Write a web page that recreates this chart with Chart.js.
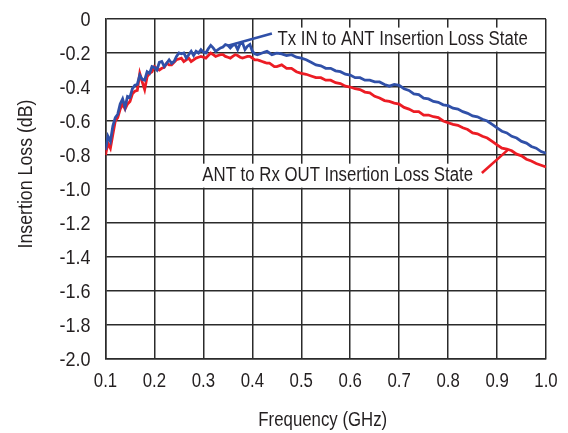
<!DOCTYPE html>
<html>
<head>
<meta charset="utf-8">
<script src="https://cdn.jsdelivr.net/npm/chart.js@4.4.1/dist/chart.umd.min.js"></script>
<style>
  html, body { margin: 0; padding: 0; background: #fff; }
  canvas { display: block; }
</style>
</head>
<body>
<canvas id="chart" width="568" height="433"></canvas>
<script>
// Frequency points (GHz): fine spacing through the noisy low band, 10 MHz above
const freqGHz = [
  0.100, 0.105, 0.110, 0.115, 0.120, 0.125, 0.130, 0.135, 0.140, 0.145,
  0.150, 0.155, 0.160, 0.165, 0.170, 0.175, 0.180, 0.185, 0.190, 0.195,
  0.200, 0.205, 0.210, 0.215, 0.220, 0.225, 0.230, 0.235, 0.240, 0.245,
  0.250, 0.255, 0.260, 0.265, 0.270, 0.275, 0.280, 0.285, 0.290, 0.295,
  0.300, 0.305, 0.310, 0.315, 0.320, 0.325, 0.330, 0.335, 0.340, 0.345,
  0.350, 0.355, 0.360, 0.365, 0.370, 0.375, 0.380, 0.385, 0.390, 0.395,
  0.400, 0.405, 0.410, 0.415, 0.420, 0.425, 0.430, 0.435, 0.440, 0.445,
  0.450,
  0.46, 0.47, 0.48, 0.49, 0.50, 0.51, 0.52, 0.53, 0.54, 0.55,
  0.56, 0.57, 0.58, 0.59, 0.60, 0.61, 0.62, 0.63, 0.64, 0.65,
  0.66, 0.67, 0.68, 0.69, 0.70, 0.71, 0.72, 0.73, 0.74, 0.75,
  0.76, 0.77, 0.78, 0.79, 0.80, 0.81, 0.82, 0.83, 0.84, 0.85,
  0.86, 0.87, 0.88, 0.89, 0.90, 0.91, 0.92, 0.93, 0.94, 0.95,
  0.96, 0.97, 0.98, 0.99, 1.00
];

// Tx IN to ANT insertion loss (dB)
const txToAntLoss = [
  -0.77, -0.69, -0.72, -0.63, -0.58, -0.56, -0.50, -0.47, -0.52, -0.455,
  -0.46, -0.41, -0.39, -0.385, -0.33, -0.355, -0.36, -0.31, -0.32, -0.28,
  -0.285, -0.30, -0.255, -0.25, -0.28, -0.26, -0.24, -0.26, -0.25, -0.22,
  -0.20, -0.205, -0.20, -0.23, -0.21, -0.19, -0.215, -0.19, -0.20, -0.18,
  -0.195, -0.20, -0.175, -0.155, -0.17, -0.19, -0.18, -0.17, -0.165, -0.15,
  -0.155, -0.17, -0.155, -0.15, -0.18, -0.145, -0.14, -0.18, -0.16, -0.15,
  -0.19, -0.205, -0.21, -0.205, -0.20, -0.195, -0.19, -0.20, -0.21, -0.205,
  -0.20,
  -0.205, -0.215, -0.21, -0.225, -0.23, -0.24, -0.255, -0.27, -0.275, -0.29,
  -0.29, -0.305, -0.31, -0.325, -0.33, -0.345, -0.345, -0.36, -0.36, -0.37,
  -0.37, -0.385, -0.395, -0.385, -0.39, -0.41, -0.42, -0.44, -0.445, -0.465,
  -0.47, -0.485, -0.49, -0.505, -0.51, -0.525, -0.53, -0.545, -0.555, -0.57,
  -0.575, -0.59, -0.60, -0.62, -0.64, -0.66, -0.67, -0.69, -0.70, -0.72,
  -0.73, -0.75, -0.76, -0.78, -0.79
];

// ANT to Rx OUT insertion loss (dB)
const antToRxLoss = [
  -0.80, -0.73, -0.76, -0.68, -0.60, -0.58, -0.53, -0.50, -0.53, -0.50,
  -0.485, -0.44, -0.425, -0.42, -0.32, -0.37, -0.415, -0.34, -0.32, -0.31,
  -0.28, -0.29, -0.30, -0.29, -0.285, -0.26, -0.27, -0.27, -0.255, -0.24,
  -0.235, -0.23, -0.25, -0.24, -0.23, -0.25, -0.24, -0.23, -0.225, -0.22,
  -0.225, -0.23, -0.215, -0.20, -0.21, -0.22, -0.215, -0.21, -0.21, -0.22,
  -0.225, -0.23, -0.22, -0.21, -0.215, -0.225, -0.23, -0.225, -0.22, -0.22,
  -0.23, -0.24, -0.24, -0.245, -0.25, -0.255, -0.26, -0.26, -0.27, -0.28,
  -0.28,
  -0.27, -0.29, -0.29, -0.31, -0.32, -0.325, -0.335, -0.345, -0.345, -0.36,
  -0.36, -0.375, -0.38, -0.395, -0.40, -0.41, -0.415, -0.43, -0.435, -0.455,
  -0.465, -0.48, -0.485, -0.495, -0.50, -0.52, -0.53, -0.545, -0.545, -0.565,
  -0.565, -0.575, -0.58, -0.60, -0.61, -0.62, -0.625, -0.64, -0.65, -0.67,
  -0.675, -0.69, -0.70, -0.72, -0.74, -0.76, -0.765, -0.775, -0.795, -0.805,
  -0.825, -0.835, -0.85, -0.86, -0.87
];

const xTicks = [0.1, 0.2, 0.3, 0.4, 0.5, 0.6, 0.7, 0.8, 0.9, 1.0];
const yTicks = [0, -0.2, -0.4, -0.6, -0.8, -1.0, -1.2, -1.4, -1.6, -1.8, -2.0];
const xTitle = 'Frequency (GHz)';
const yTitle = 'Insertion Loss (dB)';

const FONT = "'Liberation Sans', Arial, sans-serif";
const INK = '#231f20';
const GRID = '#2b2b2b';
const BLUE = '#3050a8';
const RED = '#ec1c24';

// Callout labels: baseline anchored in data units, leader line to the curve
const callouts = [
  { text: 'Tx IN to ANT Insertion Loss State', x: 0.4515, y: -0.1505, align: 'left',
    color: BLUE, from: [0.350, -0.157], to: [0.440, -0.086] },
  { text: 'ANT to Rx OUT Insertion Loss State', x: 0.851, y: -0.951, align: 'right',
    color: RED, from: [0.869, -0.906], to: [0.922, -0.770] }
];

// Narrow-set text: the face is squeezed horizontally to a condensed width
function narrowText(ctx, text, x, y, size, squeeze, align, rotate) {
  ctx.save();
  ctx.translate(x, y);
  if (rotate) ctx.rotate(-Math.PI / 2);
  ctx.scale(squeeze, 1);
  ctx.font = `${size}px ${FONT}`;
  ctx.fillStyle = INK;
  ctx.textAlign = align;
  ctx.textBaseline = 'alphabetic';
  ctx.fillText(text, 0, 0);
  ctx.restore();
}

const textPlugin = {
  id: 'narrowLabels',
  afterDraw(chart) {
    const { ctx, chartArea, scales: { x, y } } = chart;

    // Tick labels, placed from the scales' own ticks
    x.ticks.forEach(t => {
      narrowText(ctx, t.value.toFixed(1), x.getPixelForValue(t.value), chartArea.bottom + 28, 20, 0.84, 'center');
    });
    y.ticks.forEach(t => {
      const label = t.value === 0 ? '0' : t.value.toFixed(1);
      narrowText(ctx, label, chartArea.left - 15, y.getPixelForValue(t.value) + 7.3, 20, 0.9, 'right');
    });

    // Axis titles
    narrowText(ctx, xTitle, (chartArea.left + chartArea.right) / 2 - 3, chartArea.bottom + 67, 20, 0.84, 'center');
    narrowText(ctx, yTitle, 32, 174, 21, 0.845, 'center', true);

    // Callouts with a white box behind the text
    ctx.save();
    ctx.font = `20px ${FONT}`;
    callouts.forEach(c => {
      const px = x.getPixelForValue(c.x);
      const py = y.getPixelForValue(c.y);
      const w = ctx.measureText(c.text).width * 0.84;
      const left = c.align === 'left' ? px : px - w;
      ctx.fillStyle = '#fff';
      ctx.fillRect(left - 3, py - 17, w + 6, 24);
      narrowText(ctx, c.text, px, py, 20, 0.84, c.align);
      ctx.strokeStyle = c.color;
      ctx.lineWidth = 2.6;
      ctx.beginPath();
      ctx.moveTo(x.getPixelForValue(c.from[0]), y.getPixelForValue(c.from[1]));
      ctx.lineTo(x.getPixelForValue(c.to[0]), y.getPixelForValue(c.to[1]));
      ctx.stroke();
    });
    ctx.restore();
  }
};

const toPoints = ys => freqGHz.map((f, i) => ({ x: f, y: ys[i] }));

new Chart(document.getElementById('chart'), {
  type: 'line',
  data: {
    datasets: [
      { label: 'Tx IN to ANT Insertion Loss State', data: toPoints(txToAntLoss),
        borderColor: BLUE, borderWidth: 2.8, pointRadius: 0, tension: 0 },
      { label: 'ANT to Rx OUT Insertion Loss State', data: toPoints(antToRxLoss),
        borderColor: RED, borderWidth: 2.8, pointRadius: 0, tension: 0 }
    ]
  },
  options: {
    responsive: false,
    animation: false,
    devicePixelRatio: 1,
    layout: { padding: { top: 19, right: 22, left: 0, bottom: 0 } },
    plugins: { legend: { display: false }, tooltip: { enabled: false } },
    scales: {
      x: {
        type: 'linear', min: 0.1, max: 1.0,
        afterBuildTicks: s => { s.ticks = xTicks.map(v => ({ value: v })); },
        afterFit: s => { s.height = 74; },
        ticks: { display: false },
        grid: { color: GRID, lineWidth: 1.5, drawTicks: false },
        border: { color: GRID, width: 1.5 }
      },
      y: {
        type: 'linear', min: -2, max: 0,
        afterBuildTicks: s => { s.ticks = yTicks.map(v => ({ value: v })); },
        afterFit: s => { s.width = 105.5; },
        ticks: { display: false },
        grid: { color: GRID, lineWidth: 1.5, drawTicks: false },
        border: { color: GRID, width: 1.5 }
      }
    }
  },
  plugins: [textPlugin]
});
</script>
</body>
</html>
